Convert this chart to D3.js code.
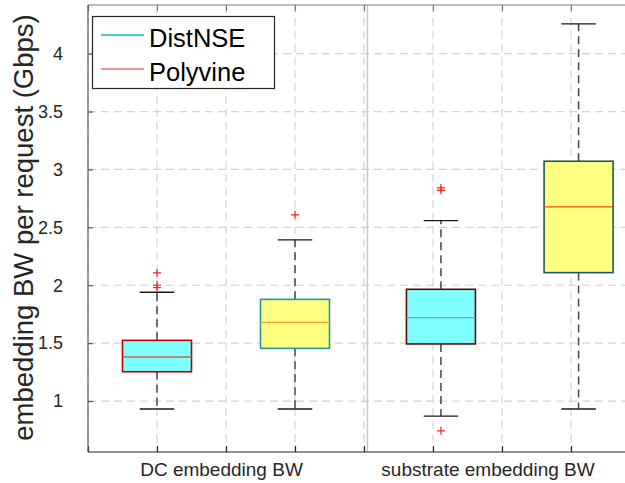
<!DOCTYPE html>
<html>
<head>
<meta charset="utf-8">
<script src="https://cdn.jsdelivr.net/npm/d3@7"></script>
<style>
  html, body { margin: 0; padding: 0; background: #fff; }
  svg { display: block; font-family: "Liberation Sans", Arial, Helvetica, sans-serif; }
</style>
</head>
<body>
<svg id="chart" width="625" height="483"></svg>
<script>
// Group labels and series names
const categories = ["DC embedding BW", "substrate embedding BW"];
const seriesNames = ["DistNSE", "Polyvine"];

// Box positions on the x axis (one pair per group)
const positions = [[1, 3], [5.115, 7.11]];

// Box statistics per group: [DistNSE, Polyvine]
const whiskerLow  = [[0.931, 0.931], [0.870, 0.931]];
const q1          = [[1.253, 1.455], [1.493, 2.109]];
const medians     = [[1.380, 1.679], [1.720, 2.677]];
const q3          = [[1.524, 1.878], [1.965, 3.071]];
const whiskerHigh = [[1.939, 2.392], [2.558, 4.257]];
const outliers    = [[[1.98, 2.0, 2.106], [2.608]], [[0.743, 2.82, 2.84], []]];

// Axis ticks
const yTicks = [1, 1.5, 2, 2.5, 3, 3.5, 4];
const yTickLabels = ["1", "1.5", "2", "2.5", "3", "3.5", "4"];
const xTicks = [0, 1, 2, 3, 4, 5, 6, 7, 8];

// Styling per box
const boxFill   = [["#80ffff", "#ffff80"], ["#80ffff", "#ffff80"]];
const boxStroke = [["#b40000", "#1e9a9a"], ["#5e0a0a", "#1f5858"]];
const medStroke = [["#cc5c5c", "#ffa030"], ["#7aa4a4", "#ff4a10"]];
const legendColors = ["#00c4c4", "#e07a7a"];

const svg = d3.select("#chart");
const W = 625, H = 483;
const plotLeft = 88, plotTop = 5, plotBottom = 452;

const x = d3.scaleLinear().domain([0, 8]).range([plotLeft, plotLeft + 8 * 69]);
const y = d3.scaleLinear().domain([0.56, 4.42]).range([plotBottom, plotTop]);

const textColor = "#262626";

// Grid
const grid = svg.append("g");
grid.selectAll("line.gy").data(yTicks).join("line")
  .attr("x1", plotLeft).attr("x2", W + 20)
  .attr("y1", d => y(d)).attr("y2", d => y(d))
  .attr("stroke", "#d4d4d4").attr("stroke-width", 1.2).attr("stroke-dasharray", "8,5");
grid.selectAll("line.gx").data(xTicks).join("line")
  .attr("x1", d => x(d)).attr("x2", d => x(d))
  .attr("y1", plotTop).attr("y2", plotBottom)
  .attr("stroke", "#d4d4d4").attr("stroke-width", 1.2).attr("stroke-dasharray", "8,5");

// Separator between the two groups
svg.append("line")
  .attr("x1", x(4.05)).attr("x2", x(4.05)).attr("y1", plotTop).attr("y2", plotBottom)
  .attr("stroke", "#c8c8c8").attr("stroke-width", 1.5);

// Axes
const xAxisB = d3.axisBottom(x).tickValues(xTicks).tickSize(-6).tickFormat("");
const gxB = svg.append("g").attr("transform", `translate(0,${plotBottom})`).call(xAxisB);
gxB.select(".domain").attr("stroke", textColor).attr("stroke-width", 1.2).attr("d", `M${plotLeft},0H${W + 20}`);
gxB.selectAll(".tick line").attr("stroke", textColor).attr("stroke-width", 1.2);

const xAxisT = d3.axisTop(x).tickValues(xTicks).tickSize(-6).tickFormat("");
const gxT = svg.append("g").attr("transform", `translate(0,${plotTop})`).call(xAxisT);
gxT.select(".domain").attr("stroke", "#7a7a7a").attr("stroke-width", 1.2).attr("d", `M${plotLeft},0H${W + 20}`);
gxT.selectAll(".tick line").attr("stroke", "#7a7a7a").attr("stroke-width", 1.2);

const yAxis = d3.axisLeft(y).tickValues(yTicks).tickSize(-5).tickPadding(25)
  .tickFormat((d, i) => yTickLabels[i]);
const gy = svg.append("g").attr("transform", `translate(${plotLeft},0)`).call(yAxis);
gy.select(".domain").attr("stroke", "#5a5a5a").attr("stroke-width", 1.2).attr("d", `M0,${plotTop}V${plotBottom}`);
gy.selectAll(".tick line").attr("stroke", "#5a5a5a").attr("stroke-width", 1.2);
gy.selectAll(".tick text").attr("fill", textColor).attr("font-size", 18)
  .attr("font-family", "Liberation Sans, Arial, sans-serif");

// Boxes
const boxHalf = 0.5, capHalf = 0.25;
categories.forEach((cat, g) => {
  seriesNames.forEach((s, k) => {
    const cx = positions[g][k];
    const b = svg.append("g");
    // whiskers
    b.append("line").attr("x1", x(cx)).attr("x2", x(cx))
      .attr("y1", y(q3[g][k])).attr("y2", y(whiskerHigh[g][k]))
      .attr("stroke", "#454545").attr("stroke-width", 1.5).attr("stroke-dasharray", "8,5");
    b.append("line").attr("x1", x(cx)).attr("x2", x(cx))
      .attr("y1", y(q1[g][k])).attr("y2", y(whiskerLow[g][k]))
      .attr("stroke", "#454545").attr("stroke-width", 1.5).attr("stroke-dasharray", "8,5");
    // caps
    [whiskerHigh[g][k], whiskerLow[g][k]].forEach(v => {
      b.append("line").attr("x1", x(cx - capHalf)).attr("x2", x(cx + capHalf))
        .attr("y1", y(v)).attr("y2", y(v))
        .attr("stroke", "#1a1a1a").attr("stroke-width", 1.4);
    });
    // box
    b.append("rect")
      .attr("x", x(cx - boxHalf)).attr("width", x(cx + boxHalf) - x(cx - boxHalf))
      .attr("y", y(q3[g][k])).attr("height", y(q1[g][k]) - y(q3[g][k]))
      .attr("fill", boxFill[g][k]).attr("stroke", boxStroke[g][k]).attr("stroke-width", 1.6);
    // median
    b.append("line").attr("x1", x(cx - boxHalf)).attr("x2", x(cx + boxHalf))
      .attr("y1", y(medians[g][k])).attr("y2", y(medians[g][k]))
      .attr("stroke", medStroke[g][k]).attr("stroke-width", 1.4);
    // outliers
    outliers[g][k].forEach(v => {
      const px = x(cx), py = y(v);
      b.append("path").attr("d", `M${px - 4},${py}H${px + 4}M${px},${py - 4}V${py + 4}`)
        .attr("stroke", "#ff2020").attr("stroke-width", 1.2).attr("fill", "none");
    });
  });
});

// Group labels
const labelX = [221.5, 488];
svg.selectAll("text.cat").data(categories).join("text")
  .attr("class", "cat")
  .attr("x", (d, i) => labelX[i]).attr("y", 476)
  .attr("text-anchor", "middle").attr("font-size", 19).attr("fill", textColor)
  .text(d => d);

// Y axis title
svg.append("text")
  .attr("transform", "translate(33,227.5) rotate(-90)")
  .attr("text-anchor", "middle").attr("font-size", 27.5).attr("fill", textColor)
  .text("embedding BW per request (Gbps)");

// Legend
const lg = svg.append("g");
lg.append("rect").attr("x", 92.5).attr("y", 16.5).attr("width", 182).attr("height", 72)
  .attr("fill", "#fff").attr("stroke", textColor).attr("stroke-width", 1.2);
seriesNames.forEach((s, i) => {
  const ly = 35 + i * 34;
  lg.append("line").attr("x1", 101).attr("x2", 144).attr("y1", ly).attr("y2", ly)
    .attr("stroke", legendColors[i]).attr("stroke-width", 1.5);
  lg.append("text").attr("x", 149).attr("y", ly + 11.5)
    .attr("font-size", 25.5).attr("fill", "#000").text(s);
});
</script>
</body>
</html>
